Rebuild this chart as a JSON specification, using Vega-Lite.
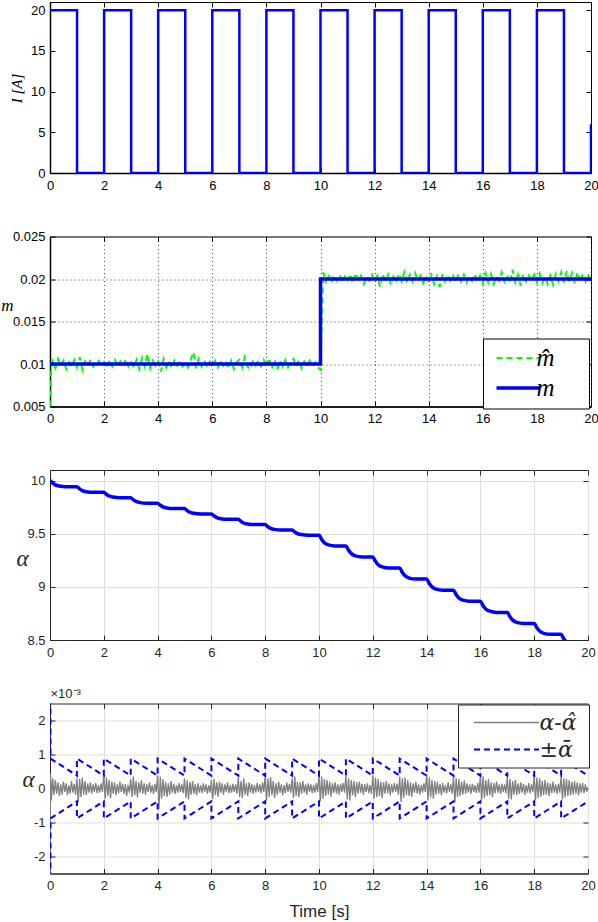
{
"$schema": "https://vega.github.io/schema/vega-lite/v6.json",
"padding": {"left": 0, "top": 1, "right": 2, "bottom": 2},
"bounds": "flush",
"spacing": 63.5,
"resolve": {"scale": {"color": "independent", "strokeDash": "independent", "strokeWidth": "independent"}, "legend": {"color": "independent", "strokeDash": "independent", "strokeWidth": "independent"}},
"config": {
  "font": "Liberation Sans",
  "view": {"stroke": "#000"},
  "axis": {"labelFont": "Liberation Sans", "labelFontSize": 13, "labelColor": "#000", "tickColor": "#000", "tickSize": -5, "labelPadding": 10, "labelFlush": false, "labelOverlap": false, "domainColor": "#000", "titleFont": "Liberation Serif", "titleFontStyle": "italic", "titleFontWeight": "normal", "titleColor": "#000"},
  "axisX": {"labelPadding": 11},
  "legend": {"symbolOpacity": 1}
},
"vconcat": [
{
  "width": 541, "height": 171,
  "data": {"values": [
    {"t":0,"v":20},{"t":1,"v":20},{"t":1,"v":0},{"t":2,"v":0},{"t":2,"v":20},{"t":3,"v":20},{"t":3,"v":0},{"t":4,"v":0},{"t":4,"v":20},{"t":5,"v":20},{"t":5,"v":0},{"t":6,"v":0},{"t":6,"v":20},{"t":7,"v":20},{"t":7,"v":0},{"t":8,"v":0},{"t":8,"v":20},{"t":9,"v":20},{"t":9,"v":0},{"t":10,"v":0},{"t":10,"v":20},{"t":11,"v":20},{"t":11,"v":0},{"t":12,"v":0},{"t":12,"v":20},{"t":13,"v":20},{"t":13,"v":0},{"t":14,"v":0},{"t":14,"v":20},{"t":15,"v":20},{"t":15,"v":0},{"t":16,"v":0},{"t":16,"v":20},{"t":17,"v":20},{"t":17,"v":0},{"t":18,"v":0},{"t":18,"v":20},{"t":19,"v":20},{"t":19,"v":0},{"t":20,"v":0},{"t":20,"v":6}
  ]},
  "layer": [
    {"mark": {"type": "line", "color": "#0000ff", "strokeWidth": 2.5, "clip": true, "strokeJoin": "miter"},
     "encoding": {
       "x": {"field": "t", "type": "quantitative", "scale": {"domain": [0, 20], "nice": false, "zero": false}, "axis": {"values": [0,2,4,6,8,10,12,14,16,18,20], "title": null, "grid": false, "domainWidth": 1.5}},
       "y": {"field": "v", "type": "quantitative", "scale": {"domain": [0, 21], "nice": false, "zero": false}, "axis": {"values": [0,5,10,15,20], "grid": false, "title": "I [A]", "titleX": -34, "titleY": 86, "titleAngle": -90, "titleAlign": "center", "titleBaseline": "middle", "titleFontSize": 15, "domainWidth": 1.5}},
       "order": {"value": null}
     }},
    {"mark": {"type": "point", "opacity": 0},
     "encoding": {
       "x": {"field": "t", "type": "quantitative", "scale": {"domain": [0, 20], "nice": false, "zero": false}, "axis": {"orient": "top", "values": [0,2,4,6,8,10,12,14,16,18,20], "labels": false, "domain": false, "grid": false, "title": null}},
       "y": {"field": "v", "type": "quantitative", "scale": {"domain": [0, 21], "nice": false, "zero": false}, "axis": {"orient": "right", "values": [0,5,10,15,20], "labels": false, "domain": false, "grid": false, "title": null}}
     }}
  ],
  "resolve": {"scale": {"x": "independent", "y": "independent"}}
},
{
  "width": 541, "height": 170,
  "data": {"values": [
    {"t":0,"v":0.005,"s":"m̂"},{"t":0.05,"v":0.0095,"s":"m̂"},
    {"t":0.1,"v":0.0103,"s":"m̂"},{"t":0.2,"v":0.0095,"s":"m̂"},{"t":0.3,"v":0.0106,"s":"m̂"},{"t":0.4,"v":0.0098,"s":"m̂"},{"t":0.5,"v":0.0104,"s":"m̂"},{"t":0.6,"v":0.0094,"s":"m̂"},{"t":0.7,"v":0.0102,"s":"m̂"},{"t":0.8,"v":0.0097,"s":"m̂"},{"t":0.9,"v":0.0105,"s":"m̂"},{"t":1.0,"v":0.0096,"s":"m̂"},
    {"t":1.1,"v":0.0108,"s":"m̂"},{"t":1.2,"v":0.0093,"s":"m̂"},{"t":1.3,"v":0.0103,"s":"m̂"},{"t":1.4,"v":0.0098,"s":"m̂"},{"t":1.5,"v":0.0105,"s":"m̂"},{"t":1.6,"v":0.0097,"s":"m̂"},{"t":1.7,"v":0.0101,"s":"m̂"},{"t":1.8,"v":0.0104,"s":"m̂"},{"t":1.9,"v":0.0098,"s":"m̂"},{"t":2.0,"v":0.0102,"s":"m̂"},
    {"t":2.1,"v":0.0095,"s":"m̂"},{"t":2.2,"v":0.0104,"s":"m̂"},{"t":2.3,"v":0.0097,"s":"m̂"},{"t":2.4,"v":0.0105,"s":"m̂"},{"t":2.5,"v":0.0098,"s":"m̂"},{"t":2.6,"v":0.0103,"s":"m̂"},{"t":2.7,"v":0.0096,"s":"m̂"},{"t":2.8,"v":0.0106,"s":"m̂"},{"t":2.9,"v":0.0097,"s":"m̂"},{"t":3.0,"v":0.0102,"s":"m̂"},
    {"t":3.1,"v":0.0096,"s":"m̂"},{"t":3.2,"v":0.0105,"s":"m̂"},{"t":3.3,"v":0.0094,"s":"m̂"},{"t":3.4,"v":0.0107,"s":"m̂"},{"t":3.5,"v":0.0097,"s":"m̂"},{"t":3.6,"v":0.0112,"s":"m̂"},{"t":3.7,"v":0.0095,"s":"m̂"},{"t":3.8,"v":0.0104,"s":"m̂"},{"t":3.9,"v":0.0098,"s":"m̂"},{"t":4.0,"v":0.0103,"s":"m̂"},
    {"t":4.1,"v":0.0091,"s":"m̂"},{"t":4.2,"v":0.0106,"s":"m̂"},{"t":4.3,"v":0.0096,"s":"m̂"},{"t":4.4,"v":0.0103,"s":"m̂"},{"t":4.5,"v":0.0095,"s":"m̂"},{"t":4.6,"v":0.0104,"s":"m̂"},{"t":4.7,"v":0.0098,"s":"m̂"},{"t":4.8,"v":0.0103,"s":"m̂"},{"t":4.9,"v":0.0097,"s":"m̂"},{"t":5.0,"v":0.0102,"s":"m̂"},
    {"t":5.1,"v":0.0096,"s":"m̂"},{"t":5.2,"v":0.0105,"s":"m̂"},{"t":5.3,"v":0.0114,"s":"m̂"},{"t":5.4,"v":0.0095,"s":"m̂"},{"t":5.5,"v":0.0106,"s":"m̂"},{"t":5.6,"v":0.0097,"s":"m̂"},{"t":5.7,"v":0.0104,"s":"m̂"},{"t":5.8,"v":0.0098,"s":"m̂"},{"t":5.9,"v":0.0103,"s":"m̂"},{"t":6.0,"v":0.0097,"s":"m̂"},
    {"t":6.1,"v":0.0104,"s":"m̂"},{"t":6.2,"v":0.0096,"s":"m̂"},{"t":6.3,"v":0.0105,"s":"m̂"},{"t":6.4,"v":0.0098,"s":"m̂"},{"t":6.5,"v":0.0103,"s":"m̂"},{"t":6.6,"v":0.0095,"s":"m̂"},{"t":6.7,"v":0.0104,"s":"m̂"},{"t":6.8,"v":0.0094,"s":"m̂"},{"t":6.9,"v":0.0102,"s":"m̂"},{"t":7.0,"v":0.0105,"s":"m̂"},
    {"t":7.1,"v":0.0096,"s":"m̂"},{"t":7.2,"v":0.0108,"s":"m̂"},{"t":7.3,"v":0.0097,"s":"m̂"},{"t":7.4,"v":0.0094,"s":"m̂"},{"t":7.5,"v":0.0103,"s":"m̂"},{"t":7.6,"v":0.0098,"s":"m̂"},{"t":7.7,"v":0.0104,"s":"m̂"},{"t":7.8,"v":0.0097,"s":"m̂"},{"t":7.9,"v":0.0105,"s":"m̂"},{"t":8.0,"v":0.0096,"s":"m̂"},
    {"t":8.1,"v":0.0107,"s":"m̂"},{"t":8.2,"v":0.0094,"s":"m̂"},{"t":8.3,"v":0.0105,"s":"m̂"},{"t":8.4,"v":0.0093,"s":"m̂"},{"t":8.5,"v":0.0104,"s":"m̂"},{"t":8.6,"v":0.0097,"s":"m̂"},{"t":8.7,"v":0.0105,"s":"m̂"},{"t":8.8,"v":0.0096,"s":"m̂"},{"t":8.9,"v":0.0102,"s":"m̂"},{"t":9.0,"v":0.0106,"s":"m̂"},
    {"t":9.1,"v":0.0097,"s":"m̂"},{"t":9.2,"v":0.0104,"s":"m̂"},{"t":9.3,"v":0.0095,"s":"m̂"},{"t":9.4,"v":0.0103,"s":"m̂"},{"t":9.5,"v":0.0098,"s":"m̂"},{"t":9.6,"v":0.0104,"s":"m̂"},{"t":9.7,"v":0.0097,"s":"m̂"},{"t":9.8,"v":0.0102,"s":"m̂"},{"t":9.9,"v":0.0096,"s":"m̂"},{"t":10.0,"v":0.0093,"s":"m̂"},
    {"t":10.1,"v":0.0208,"s":"m̂"},{"t":10.2,"v":0.0197,"s":"m̂"},{"t":10.3,"v":0.0206,"s":"m̂"},{"t":10.4,"v":0.0195,"s":"m̂"},{"t":10.5,"v":0.0204,"s":"m̂"},{"t":10.6,"v":0.0198,"s":"m̂"},{"t":10.7,"v":0.0205,"s":"m̂"},{"t":10.8,"v":0.0196,"s":"m̂"},{"t":10.9,"v":0.0203,"s":"m̂"},{"t":11.0,"v":0.0197,"s":"m̂"},
    {"t":11.1,"v":0.0206,"s":"m̂"},{"t":11.2,"v":0.0195,"s":"m̂"},{"t":11.3,"v":0.0207,"s":"m̂"},{"t":11.4,"v":0.0198,"s":"m̂"},{"t":11.5,"v":0.0204,"s":"m̂"},{"t":11.6,"v":0.0194,"s":"m̂"},{"t":11.7,"v":0.0203,"s":"m̂"},{"t":11.8,"v":0.0198,"s":"m̂"},{"t":11.9,"v":0.0205,"s":"m̂"},{"t":12.0,"v":0.0197,"s":"m̂"},
    {"t":12.1,"v":0.0204,"s":"m̂"},{"t":12.2,"v":0.0191,"s":"m̂"},{"t":12.3,"v":0.0206,"s":"m̂"},{"t":12.4,"v":0.0196,"s":"m̂"},{"t":12.5,"v":0.0205,"s":"m̂"},{"t":12.6,"v":0.0193,"s":"m̂"},{"t":12.7,"v":0.0203,"s":"m̂"},{"t":12.8,"v":0.0198,"s":"m̂"},{"t":12.9,"v":0.0206,"s":"m̂"},{"t":13.0,"v":0.0197,"s":"m̂"},
    {"t":13.1,"v":0.0208,"s":"m̂"},{"t":13.2,"v":0.0196,"s":"m̂"},{"t":13.3,"v":0.0205,"s":"m̂"},{"t":13.4,"v":0.0197,"s":"m̂"},{"t":13.5,"v":0.0207,"s":"m̂"},{"t":13.6,"v":0.0198,"s":"m̂"},{"t":13.7,"v":0.0204,"s":"m̂"},{"t":13.8,"v":0.0195,"s":"m̂"},{"t":13.9,"v":0.0203,"s":"m̂"},{"t":14.0,"v":0.0196,"s":"m̂"},
    {"t":14.1,"v":0.0205,"s":"m̂"},{"t":14.2,"v":0.0194,"s":"m̂"},{"t":14.3,"v":0.0203,"s":"m̂"},{"t":14.4,"v":0.0191,"s":"m̂"},{"t":14.5,"v":0.0204,"s":"m̂"},{"t":14.6,"v":0.0197,"s":"m̂"},{"t":14.7,"v":0.0205,"s":"m̂"},{"t":14.8,"v":0.0198,"s":"m̂"},{"t":14.9,"v":0.0204,"s":"m̂"},{"t":15.0,"v":0.0196,"s":"m̂"},
    {"t":15.1,"v":0.0206,"s":"m̂"},{"t":15.2,"v":0.0197,"s":"m̂"},{"t":15.3,"v":0.0205,"s":"m̂"},{"t":15.4,"v":0.0196,"s":"m̂"},{"t":15.5,"v":0.0203,"s":"m̂"},{"t":15.6,"v":0.0198,"s":"m̂"},{"t":15.7,"v":0.0206,"s":"m̂"},{"t":15.8,"v":0.0197,"s":"m̂"},{"t":15.9,"v":0.0204,"s":"m̂"},{"t":16.0,"v":0.0195,"s":"m̂"},
    {"t":16.1,"v":0.0207,"s":"m̂"},{"t":16.2,"v":0.0196,"s":"m̂"},{"t":16.3,"v":0.0206,"s":"m̂"},{"t":16.4,"v":0.0194,"s":"m̂"},{"t":16.5,"v":0.0203,"s":"m̂"},{"t":16.6,"v":0.0198,"s":"m̂"},{"t":16.7,"v":0.0208,"s":"m̂"},{"t":16.8,"v":0.0197,"s":"m̂"},{"t":16.9,"v":0.0204,"s":"m̂"},{"t":17.0,"v":0.0195,"s":"m̂"},
    {"t":17.1,"v":0.0211,"s":"m̂"},{"t":17.2,"v":0.0196,"s":"m̂"},{"t":17.3,"v":0.0205,"s":"m̂"},{"t":17.4,"v":0.0192,"s":"m̂"},{"t":17.5,"v":0.0206,"s":"m̂"},{"t":17.6,"v":0.0197,"s":"m̂"},{"t":17.7,"v":0.0204,"s":"m̂"},{"t":17.8,"v":0.0198,"s":"m̂"},{"t":17.9,"v":0.0205,"s":"m̂"},{"t":18.0,"v":0.0196,"s":"m̂"},
    {"t":18.1,"v":0.0206,"s":"m̂"},{"t":18.2,"v":0.0195,"s":"m̂"},{"t":18.3,"v":0.0203,"s":"m̂"},{"t":18.4,"v":0.0194,"s":"m̂"},{"t":18.5,"v":0.0204,"s":"m̂"},{"t":18.6,"v":0.0193,"s":"m̂"},{"t":18.7,"v":0.0206,"s":"m̂"},{"t":18.8,"v":0.0197,"s":"m̂"},{"t":18.9,"v":0.0208,"s":"m̂"},{"t":19.0,"v":0.0196,"s":"m̂"},
    {"t":19.1,"v":0.0209,"s":"m̂"},{"t":19.2,"v":0.0197,"s":"m̂"},{"t":19.3,"v":0.0207,"s":"m̂"},{"t":19.4,"v":0.0195,"s":"m̂"},{"t":19.5,"v":0.0208,"s":"m̂"},{"t":19.6,"v":0.0196,"s":"m̂"},{"t":19.7,"v":0.0206,"s":"m̂"},{"t":19.8,"v":0.0197,"s":"m̂"},{"t":19.9,"v":0.0204,"s":"m̂"},{"t":20.0,"v":0.0198,"s":"m̂"},
    {"t":0,"v":0.01,"s":"m"},{"t":10,"v":0.01,"s":"m"},{"t":10,"v":0.02,"s":"m"},{"t":20,"v":0.02,"s":"m"}
  ]},
  "layer": [
    {"mark": {"type": "line", "clip": true, "strokeJoin": "miter"},
     "encoding": {
       "x": {"field": "t", "type": "quantitative", "scale": {"domain": [0, 20], "nice": false, "zero": false}, "axis": {"values": [0,2,4,6,8,10,12,14,16,18,20], "title": null, "grid": true, "gridColor": "#444", "gridDash": [1, 3], "domainWidth": 1.5}},
       "y": {"field": "v", "type": "quantitative", "scale": {"domain": [0.005, 0.025], "nice": false, "zero": false}, "axis": {"values": [0.005, 0.01, 0.015, 0.02, 0.025], "format": "~g", "grid": true, "gridColor": "#444", "gridDash": [1, 3], "title": "m", "titleX": -43, "titleY": 69, "titleAngle": 0, "titleAlign": "center", "titleBaseline": "middle", "titleFontSize": 17, "domainWidth": 1.5}},
       "color": {"field": "s", "type": "nominal", "scale": {"domain": ["m̂", "m"], "range": ["#00ff00", "#0000ff"]},
         "legend": {"title": null, "orient": "none", "legendX": 433, "legendY": 102, "symbolType": "M-4.3,0H4.3", "symbolSize": 100, "symbolOffset": 15.5, "labelFont": "Liberation Serif", "labelFontStyle": "italic", "labelFontSize": 25, "labelColor": "#000", "fillColor": "#fff", "strokeColor": "#000", "padding": 7, "rowPadding": 4, "labelOffset": 6, "labelExpr": "datum.label + '\u2003\u200a\u200b'"}},
       "strokeDash": {"field": "s", "type": "nominal", "scale": {"domain": ["m̂", "m"], "range": [[6, 4], [1, 0]]},
         "legend": {"title": null, "orient": "none", "legendX": 433, "legendY": 102, "symbolType": "M-4.3,0H4.3", "symbolSize": 100, "symbolOffset": 15.5, "labelFont": "Liberation Serif", "labelFontStyle": "italic", "labelFontSize": 25, "labelColor": "#000", "fillColor": "#fff", "strokeColor": "#000", "padding": 7, "rowPadding": 4, "labelOffset": 6, "labelExpr": "datum.label + '\u2003\u200a\u200b'"}},
       "strokeWidth": {"field": "s", "type": "nominal", "scale": {"type": "ordinal", "domain": ["m̂", "m"], "range": [2, 3.5]},
         "legend": {"title": null, "orient": "none", "legendX": 433, "legendY": 102, "symbolType": "M-4.3,0H4.3", "symbolSize": 100, "symbolOffset": 15.5, "labelFont": "Liberation Serif", "labelFontStyle": "italic", "labelFontSize": 25, "labelColor": "#000", "fillColor": "#fff", "strokeColor": "#000", "padding": 7, "rowPadding": 4, "labelOffset": 6, "labelExpr": "datum.label + '\u2003\u200a\u200b'"}},
       "order": {"value": null}
     }},
    {"mark": {"type": "point", "opacity": 0},
     "encoding": {
       "x": {"field": "t", "type": "quantitative", "scale": {"domain": [0, 20], "nice": false, "zero": false}, "axis": {"orient": "top", "values": [0,2,4,6,8,10,12,14,16,18,20], "labels": false, "domain": false, "grid": false, "title": null}},
       "y": {"field": "v", "type": "quantitative", "scale": {"domain": [0.005, 0.025], "nice": false, "zero": false}, "axis": {"orient": "right", "values": [0.005, 0.01, 0.015, 0.02, 0.025], "labels": false, "domain": false, "grid": false, "title": null}}
     }}
  ],
  "resolve": {"scale": {"x": "independent", "y": "independent"}}
},
{
  "width": 538, "height": 170,
  "view": {"stroke": "#262626"},
  "data": {"values": [
    {"t":0,"v":10.0},{"t":0.1,"v":9.977},{"t":0.2,"v":9.960},{"t":0.35,"v":9.949},{"t":0.6,"v":9.943},
    {"t":1,"v":9.943},{"t":1.1,"v":9.922},{"t":1.2,"v":9.906},{"t":1.35,"v":9.895},{"t":1.6,"v":9.890},
    {"t":2,"v":9.890},{"t":2.1,"v":9.870},{"t":2.2,"v":9.855},{"t":2.35,"v":9.845},{"t":2.6,"v":9.840},
    {"t":3,"v":9.840},{"t":3.1,"v":9.819},{"t":3.2,"v":9.804},{"t":3.35,"v":9.793},{"t":3.6,"v":9.788},
    {"t":4,"v":9.788},{"t":4.1,"v":9.768},{"t":4.2,"v":9.753},{"t":4.35,"v":9.743},{"t":4.6,"v":9.738},
    {"t":5,"v":9.738},{"t":5.1,"v":9.718},{"t":5.2,"v":9.702},{"t":5.35,"v":9.692},{"t":5.6,"v":9.687},
    {"t":6,"v":9.687},{"t":6.1,"v":9.667},{"t":6.2,"v":9.652},{"t":6.35,"v":9.642},{"t":6.6,"v":9.637},
    {"t":7,"v":9.637},{"t":7.1,"v":9.617},{"t":7.2,"v":9.601},{"t":7.35,"v":9.591},{"t":7.6,"v":9.586},
    {"t":8,"v":9.586},{"t":8.1,"v":9.566},{"t":8.2,"v":9.551},{"t":8.35,"v":9.541},{"t":8.6,"v":9.536},
    {"t":9,"v":9.536},{"t":9.1,"v":9.516},{"t":9.2,"v":9.502},{"t":9.35,"v":9.492},{"t":9.6,"v":9.487},
    {"t":10,"v":9.487},{"t":10.1,"v":9.446},{"t":10.2,"v":9.416},{"t":10.35,"v":9.395},{"t":10.6,"v":9.385},
    {"t":11,"v":9.385},{"t":11.1,"v":9.344},{"t":11.2,"v":9.313},{"t":11.35,"v":9.292},{"t":11.6,"v":9.282},
    {"t":12,"v":9.282},{"t":12.1,"v":9.240},{"t":12.2,"v":9.209},{"t":12.35,"v":9.188},{"t":12.6,"v":9.177},
    {"t":13,"v":9.177},{"t":13.1,"v":9.135},{"t":13.2,"v":9.104},{"t":13.35,"v":9.083},{"t":13.6,"v":9.073},
    {"t":14,"v":9.073},{"t":14.1,"v":9.031},{"t":14.2,"v":9.000},{"t":14.35,"v":8.979},{"t":14.6,"v":8.969},
    {"t":15,"v":8.969},{"t":15.1,"v":8.927},{"t":15.2,"v":8.896},{"t":15.35,"v":8.875},{"t":15.6,"v":8.865},
    {"t":16,"v":8.865},{"t":16.1,"v":8.823},{"t":16.2,"v":8.792},{"t":16.35,"v":8.771},{"t":16.6,"v":8.760},
    {"t":17,"v":8.760},{"t":17.1,"v":8.718},{"t":17.2,"v":8.687},{"t":17.35,"v":8.666},{"t":17.6,"v":8.656},
    {"t":18,"v":8.656},{"t":18.1,"v":8.615},{"t":18.2,"v":8.584},{"t":18.35,"v":8.563},{"t":18.6,"v":8.553},
    {"t":19,"v":8.553},{"t":19.1,"v":8.511},{"t":19.2,"v":8.48}
  ]},
  "layer": [
    {"mark": {"type": "line", "color": "#0000ff", "strokeWidth": 3.5, "clip": true, "interpolate": "monotone"},
     "encoding": {
       "x": {"field": "t", "type": "quantitative", "scale": {"domain": [0, 20], "nice": false, "zero": false}, "axis": {"values": [0,2,4,6,8,10,12,14,16,18,20], "title": null, "grid": true, "gridColor": "#dedede", "labelColor": "#262626", "tickColor": "#262626", "domainColor": "#262626"}},
       "y": {"field": "v", "type": "quantitative", "scale": {"domain": [8.5, 10.1], "nice": false, "zero": false}, "axis": {"values": [8.5, 9, 9.5, 10], "format": "~g", "grid": true, "gridColor": "#dedede", "labelColor": "#262626", "tickColor": "#262626", "domainColor": "#262626", "title": "α", "titleColor": "#262626", "titleX": -28, "titleY": 88, "titleAngle": 0, "titleAlign": "center", "titleBaseline": "middle", "titleFontSize": 23}}
     }},
    {"mark": {"type": "point", "opacity": 0},
     "encoding": {
       "x": {"field": "t", "type": "quantitative", "scale": {"domain": [0, 20], "nice": false, "zero": false}, "axis": {"orient": "top", "values": [0,2,4,6,8,10,12,14,16,18,20], "labels": false, "domain": false, "grid": false, "title": null, "tickColor": "#262626"}},
       "y": {"field": "v", "type": "quantitative", "scale": {"domain": [8.5, 10.1], "nice": false, "zero": false}, "axis": {"orient": "right", "values": [8.5, 9, 9.5, 10], "labels": false, "domain": false, "grid": false, "title": null, "tickColor": "#262626"}}
     }}
  ],
  "resolve": {"scale": {"x": "independent", "y": "independent"}}
},
{
  "width": 538, "height": 170,
  "view": {"stroke": "#262626"},
  "data": {"values": [
    {"t":0,"v":-3,"k":"e"},{"t":0.02,"v":0.45,"k":"e"},{"t":0.05,"v":-0.35,"k":"e"},{"t":0.1,"v":0.3,"k":"e"},{"t":0.15,"v":-0.2,"k":"e"},{"t":0.2,"v":0.25,"k":"e"},{"t":0.25,"v":-0.15,"k":"e"},{"t":0.3,"v":0.18,"k":"e"},{"t":0.35,"v":-0.22,"k":"e"},{"t":0.4,"v":0.12,"k":"e"},{"t":0.45,"v":-0.18,"k":"e"},{"t":0.5,"v":0.2,"k":"e"},{"t":0.55,"v":-0.1,"k":"e"},{"t":0.6,"v":0.15,"k":"e"},{"t":0.65,"v":-0.2,"k":"e"},{"t":0.7,"v":0.1,"k":"e"},{"t":0.75,"v":-0.15,"k":"e"},{"t":0.8,"v":0.22,"k":"e"},{"t":0.85,"v":-0.12,"k":"e"},{"t":0.9,"v":0.14,"k":"e"},{"t":0.95,"v":-0.18,"k":"e"},
    {"t":1.0,"v":0.3,"k":"e"},{"t":1.05,"v":-0.42,"k":"e"},{"t":1.1,"v":0.28,"k":"e"},{"t":1.15,"v":-0.25,"k":"e"},{"t":1.2,"v":0.32,"k":"e"},{"t":1.25,"v":-0.18,"k":"e"},{"t":1.3,"v":0.22,"k":"e"},{"t":1.35,"v":-0.2,"k":"e"},{"t":1.4,"v":0.15,"k":"e"},{"t":1.45,"v":-0.12,"k":"e"},{"t":1.5,"v":0.18,"k":"e"},{"t":1.55,"v":-0.15,"k":"e"},{"t":1.6,"v":0.12,"k":"e"},{"t":1.65,"v":-0.1,"k":"e"},{"t":1.7,"v":0.16,"k":"e"},{"t":1.75,"v":-0.14,"k":"e"},{"t":1.8,"v":0.1,"k":"e"},{"t":1.85,"v":-0.12,"k":"e"},{"t":1.9,"v":0.15,"k":"e"},{"t":1.95,"v":-0.1,"k":"e"},
    {"t":2.0,"v":0.43,"k":"e"},{"t":2.05,"v":-0.3,"k":"e"},{"t":2.1,"v":0.32,"k":"e"},{"t":2.15,"v":-0.22,"k":"e"},{"t":2.2,"v":0.25,"k":"e"},{"t":2.25,"v":-0.28,"k":"e"},{"t":2.3,"v":0.2,"k":"e"},{"t":2.35,"v":-0.15,"k":"e"},{"t":2.4,"v":0.18,"k":"e"},{"t":2.45,"v":-0.2,"k":"e"},{"t":2.5,"v":0.12,"k":"e"},{"t":2.55,"v":-0.14,"k":"e"},{"t":2.6,"v":0.2,"k":"e"},{"t":2.65,"v":-0.1,"k":"e"},{"t":2.7,"v":0.14,"k":"e"},{"t":2.75,"v":-0.16,"k":"e"},{"t":2.8,"v":0.12,"k":"e"},{"t":2.85,"v":-0.22,"k":"e"},{"t":2.9,"v":0.1,"k":"e"},{"t":2.95,"v":-0.12,"k":"e"},
    {"t":3.0,"v":0.28,"k":"e"},{"t":3.05,"v":-0.25,"k":"e"},{"t":3.1,"v":0.35,"k":"e"},{"t":3.15,"v":-0.2,"k":"e"},{"t":3.2,"v":0.22,"k":"e"},{"t":3.25,"v":-0.26,"k":"e"},{"t":3.3,"v":0.18,"k":"e"},{"t":3.35,"v":-0.12,"k":"e"},{"t":3.4,"v":0.24,"k":"e"},{"t":3.45,"v":-0.15,"k":"e"},{"t":3.5,"v":0.15,"k":"e"},{"t":3.55,"v":-0.18,"k":"e"},{"t":3.6,"v":0.12,"k":"e"},{"t":3.65,"v":-0.1,"k":"e"},{"t":3.7,"v":0.18,"k":"e"},{"t":3.75,"v":-0.12,"k":"e"},{"t":3.8,"v":0.1,"k":"e"},{"t":3.85,"v":-0.16,"k":"e"},{"t":3.9,"v":0.14,"k":"e"},{"t":3.95,"v":-0.1,"k":"e"},
    {"t":4.0,"v":0.38,"k":"e"},{"t":4.05,"v":-0.6,"k":"e"},{"t":4.1,"v":0.35,"k":"e"},{"t":4.15,"v":-0.3,"k":"e"},{"t":4.2,"v":0.28,"k":"e"},{"t":4.25,"v":-0.22,"k":"e"},{"t":4.3,"v":0.2,"k":"e"},{"t":4.35,"v":-0.25,"k":"e"},{"t":4.4,"v":0.15,"k":"e"},{"t":4.45,"v":-0.18,"k":"e"},{"t":4.5,"v":0.22,"k":"e"},{"t":4.55,"v":-0.12,"k":"e"},{"t":4.6,"v":0.14,"k":"e"},{"t":4.65,"v":-0.16,"k":"e"},{"t":4.7,"v":0.1,"k":"e"},{"t":4.75,"v":-0.12,"k":"e"},{"t":4.8,"v":0.16,"k":"e"},{"t":4.85,"v":-0.1,"k":"e"},{"t":4.9,"v":0.12,"k":"e"},{"t":4.95,"v":-0.14,"k":"e"},
    {"t":5.0,"v":0.3,"k":"e"},{"t":5.05,"v":-0.28,"k":"e"},{"t":5.1,"v":0.25,"k":"e"},{"t":5.15,"v":-0.32,"k":"e"},{"t":5.2,"v":0.2,"k":"e"},{"t":5.25,"v":-0.18,"k":"e"},{"t":5.3,"v":0.22,"k":"e"},{"t":5.35,"v":-0.15,"k":"e"},{"t":5.4,"v":0.12,"k":"e"},{"t":5.45,"v":-0.2,"k":"e"},{"t":5.5,"v":0.16,"k":"e"},{"t":5.55,"v":-0.12,"k":"e"},{"t":5.6,"v":0.1,"k":"e"},{"t":5.65,"v":-0.14,"k":"e"},{"t":5.7,"v":0.15,"k":"e"},{"t":5.75,"v":-0.1,"k":"e"},{"t":5.8,"v":0.12,"k":"e"},{"t":5.85,"v":-0.15,"k":"e"},{"t":5.9,"v":0.1,"k":"e"},{"t":5.95,"v":-0.12,"k":"e"},
    {"t":6.0,"v":0.25,"k":"e"},{"t":6.05,"v":-0.3,"k":"e"},{"t":6.1,"v":0.28,"k":"e"},{"t":6.15,"v":-0.2,"k":"e"},{"t":6.2,"v":0.18,"k":"e"},{"t":6.25,"v":-0.24,"k":"e"},{"t":6.3,"v":0.2,"k":"e"},{"t":6.35,"v":-0.12,"k":"e"},{"t":6.4,"v":0.15,"k":"e"},{"t":6.45,"v":-0.18,"k":"e"},{"t":6.5,"v":0.12,"k":"e"},{"t":6.55,"v":-0.1,"k":"e"},{"t":6.6,"v":0.18,"k":"e"},{"t":6.65,"v":-0.14,"k":"e"},{"t":6.7,"v":0.1,"k":"e"},{"t":6.75,"v":-0.12,"k":"e"},{"t":6.8,"v":0.14,"k":"e"},{"t":6.85,"v":-0.1,"k":"e"},{"t":6.9,"v":0.12,"k":"e"},{"t":6.95,"v":-0.15,"k":"e"},
    {"t":7.0,"v":0.32,"k":"e"},{"t":7.05,"v":-0.25,"k":"e"},{"t":7.1,"v":0.22,"k":"e"},{"t":7.15,"v":-0.28,"k":"e"},{"t":7.2,"v":0.3,"k":"e"},{"t":7.25,"v":-0.18,"k":"e"},{"t":7.3,"v":0.15,"k":"e"},{"t":7.35,"v":-0.22,"k":"e"},{"t":7.4,"v":0.18,"k":"e"},{"t":7.45,"v":-0.12,"k":"e"},{"t":7.5,"v":0.14,"k":"e"},{"t":7.55,"v":-0.16,"k":"e"},{"t":7.6,"v":0.1,"k":"e"},{"t":7.65,"v":-0.12,"k":"e"},{"t":7.7,"v":0.16,"k":"e"},{"t":7.75,"v":-0.1,"k":"e"},{"t":7.8,"v":0.12,"k":"e"},{"t":7.85,"v":-0.14,"k":"e"},{"t":7.9,"v":0.18,"k":"e"},{"t":7.95,"v":-0.1,"k":"e"},
    {"t":8.0,"v":0.4,"k":"e"},{"t":8.05,"v":-0.35,"k":"e"},{"t":8.1,"v":0.3,"k":"e"},{"t":8.15,"v":-0.25,"k":"e"},{"t":8.2,"v":0.34,"k":"e"},{"t":8.25,"v":-0.2,"k":"e"},{"t":8.3,"v":0.22,"k":"e"},{"t":8.35,"v":-0.28,"k":"e"},{"t":8.4,"v":0.15,"k":"e"},{"t":8.45,"v":-0.18,"k":"e"},{"t":8.5,"v":0.2,"k":"e"},{"t":8.55,"v":-0.12,"k":"e"},{"t":8.6,"v":0.12,"k":"e"},{"t":8.65,"v":-0.2,"k":"e"},{"t":8.7,"v":0.1,"k":"e"},{"t":8.75,"v":-0.14,"k":"e"},{"t":8.8,"v":0.18,"k":"e"},{"t":8.85,"v":-0.1,"k":"e"},{"t":8.9,"v":0.14,"k":"e"},{"t":8.95,"v":-0.12,"k":"e"},
    {"t":9.0,"v":0.3,"k":"e"},{"t":9.05,"v":-0.28,"k":"e"},{"t":9.1,"v":0.35,"k":"e"},{"t":9.15,"v":-0.22,"k":"e"},{"t":9.2,"v":0.2,"k":"e"},{"t":9.25,"v":-0.25,"k":"e"},{"t":9.3,"v":0.18,"k":"e"},{"t":9.35,"v":-0.15,"k":"e"},{"t":9.4,"v":0.22,"k":"e"},{"t":9.45,"v":-0.12,"k":"e"},{"t":9.5,"v":0.12,"k":"e"},{"t":9.55,"v":-0.18,"k":"e"},{"t":9.6,"v":0.15,"k":"e"},{"t":9.65,"v":-0.1,"k":"e"},{"t":9.7,"v":0.12,"k":"e"},{"t":9.75,"v":-0.14,"k":"e"},{"t":9.8,"v":0.1,"k":"e"},{"t":9.85,"v":-0.12,"k":"e"},{"t":9.9,"v":0.16,"k":"e"},{"t":9.95,"v":-0.1,"k":"e"},
    {"t":10.0,"v":0.42,"k":"e"},{"t":10.05,"v":-0.38,"k":"e"},{"t":10.1,"v":0.35,"k":"e"},{"t":10.15,"v":-0.3,"k":"e"},{"t":10.2,"v":0.28,"k":"e"},{"t":10.25,"v":-0.22,"k":"e"},{"t":10.3,"v":0.25,"k":"e"},{"t":10.35,"v":-0.18,"k":"e"},{"t":10.4,"v":0.2,"k":"e"},{"t":10.45,"v":-0.24,"k":"e"},{"t":10.5,"v":0.15,"k":"e"},{"t":10.55,"v":-0.12,"k":"e"},{"t":10.6,"v":0.18,"k":"e"},{"t":10.65,"v":-0.15,"k":"e"},{"t":10.7,"v":0.12,"k":"e"},{"t":10.75,"v":-0.18,"k":"e"},{"t":10.8,"v":0.14,"k":"e"},{"t":10.85,"v":-0.1,"k":"e"},{"t":10.9,"v":0.16,"k":"e"},{"t":10.95,"v":-0.12,"k":"e"},
    {"t":11.0,"v":0.4,"k":"e"},{"t":11.05,"v":-0.32,"k":"e"},{"t":11.1,"v":0.3,"k":"e"},{"t":11.15,"v":-0.35,"k":"e"},{"t":11.2,"v":0.25,"k":"e"},{"t":11.25,"v":-0.2,"k":"e"},{"t":11.3,"v":0.22,"k":"e"},{"t":11.35,"v":-0.25,"k":"e"},{"t":11.4,"v":0.18,"k":"e"},{"t":11.45,"v":-0.15,"k":"e"},{"t":11.5,"v":0.2,"k":"e"},{"t":11.55,"v":-0.12,"k":"e"},{"t":11.6,"v":0.14,"k":"e"},{"t":11.65,"v":-0.18,"k":"e"},{"t":11.7,"v":0.12,"k":"e"},{"t":11.75,"v":-0.1,"k":"e"},{"t":11.8,"v":0.15,"k":"e"},{"t":11.85,"v":-0.14,"k":"e"},{"t":11.9,"v":0.1,"k":"e"},{"t":11.95,"v":-0.16,"k":"e"},
    {"t":12.0,"v":0.38,"k":"e"},{"t":12.05,"v":-0.3,"k":"e"},{"t":12.1,"v":0.32,"k":"e"},{"t":12.15,"v":-0.25,"k":"e"},{"t":12.2,"v":0.28,"k":"e"},{"t":12.25,"v":-0.22,"k":"e"},{"t":12.3,"v":0.2,"k":"e"},{"t":12.35,"v":-0.28,"k":"e"},{"t":12.4,"v":0.18,"k":"e"},{"t":12.45,"v":-0.15,"k":"e"},{"t":12.5,"v":0.22,"k":"e"},{"t":12.55,"v":-0.14,"k":"e"},{"t":12.6,"v":0.15,"k":"e"},{"t":12.65,"v":-0.2,"k":"e"},{"t":12.7,"v":0.12,"k":"e"},{"t":12.75,"v":-0.12,"k":"e"},{"t":12.8,"v":0.16,"k":"e"},{"t":12.85,"v":-0.1,"k":"e"},{"t":12.9,"v":0.14,"k":"e"},{"t":12.95,"v":-0.18,"k":"e"},
    {"t":13.0,"v":0.35,"k":"e"},{"t":13.05,"v":-0.4,"k":"e"},{"t":13.1,"v":0.3,"k":"e"},{"t":13.15,"v":-0.28,"k":"e"},{"t":13.2,"v":0.32,"k":"e"},{"t":13.25,"v":-0.2,"k":"e"},{"t":13.3,"v":0.25,"k":"e"},{"t":13.35,"v":-0.22,"k":"e"},{"t":13.4,"v":0.18,"k":"e"},{"t":13.45,"v":-0.25,"k":"e"},{"t":13.5,"v":0.15,"k":"e"},{"t":13.55,"v":-0.12,"k":"e"},{"t":13.6,"v":0.2,"k":"e"},{"t":13.65,"v":-0.15,"k":"e"},{"t":13.7,"v":0.12,"k":"e"},{"t":13.75,"v":-0.18,"k":"e"},{"t":13.8,"v":0.1,"k":"e"},{"t":13.85,"v":-0.12,"k":"e"},{"t":13.9,"v":0.15,"k":"e"},{"t":13.95,"v":-0.1,"k":"e"},
    {"t":14.0,"v":0.4,"k":"e"},{"t":14.05,"v":-0.35,"k":"e"},{"t":14.1,"v":0.32,"k":"e"},{"t":14.15,"v":-0.26,"k":"e"},{"t":14.2,"v":0.25,"k":"e"},{"t":14.25,"v":-0.3,"k":"e"},{"t":14.3,"v":0.22,"k":"e"},{"t":14.35,"v":-0.18,"k":"e"},{"t":14.4,"v":0.2,"k":"e"},{"t":14.45,"v":-0.15,"k":"e"},{"t":14.5,"v":0.14,"k":"e"},{"t":14.55,"v":-0.2,"k":"e"},{"t":14.6,"v":0.16,"k":"e"},{"t":14.65,"v":-0.12,"k":"e"},{"t":14.7,"v":0.1,"k":"e"},{"t":14.75,"v":-0.14,"k":"e"},{"t":14.8,"v":0.18,"k":"e"},{"t":14.85,"v":-0.1,"k":"e"},{"t":14.9,"v":0.12,"k":"e"},{"t":14.95,"v":-0.15,"k":"e"},
    {"t":15.0,"v":0.36,"k":"e"},{"t":15.05,"v":-0.42,"k":"e"},{"t":15.1,"v":0.3,"k":"e"},{"t":15.15,"v":-0.25,"k":"e"},{"t":15.2,"v":0.28,"k":"e"},{"t":15.25,"v":-0.22,"k":"e"},{"t":15.3,"v":0.2,"k":"e"},{"t":15.35,"v":-0.18,"k":"e"},{"t":15.4,"v":0.24,"k":"e"},{"t":15.45,"v":-0.15,"k":"e"},{"t":15.5,"v":0.15,"k":"e"},{"t":15.55,"v":-0.12,"k":"e"},{"t":15.6,"v":0.12,"k":"e"},{"t":15.65,"v":-0.16,"k":"e"},{"t":15.7,"v":0.14,"k":"e"},{"t":15.75,"v":-0.1,"k":"e"},{"t":15.8,"v":0.1,"k":"e"},{"t":15.85,"v":-0.14,"k":"e"},{"t":15.9,"v":0.16,"k":"e"},{"t":15.95,"v":-0.12,"k":"e"},
    {"t":16.0,"v":0.38,"k":"e"},{"t":16.05,"v":-0.32,"k":"e"},{"t":16.1,"v":0.35,"k":"e"},{"t":16.15,"v":-0.28,"k":"e"},{"t":16.2,"v":0.25,"k":"e"},{"t":16.25,"v":-0.22,"k":"e"},{"t":16.3,"v":0.28,"k":"e"},{"t":16.35,"v":-0.2,"k":"e"},{"t":16.4,"v":0.18,"k":"e"},{"t":16.45,"v":-0.25,"k":"e"},{"t":16.5,"v":0.16,"k":"e"},{"t":16.55,"v":-0.14,"k":"e"},{"t":16.6,"v":0.2,"k":"e"},{"t":16.65,"v":-0.12,"k":"e"},{"t":16.7,"v":0.12,"k":"e"},{"t":16.75,"v":-0.16,"k":"e"},{"t":16.8,"v":0.14,"k":"e"},{"t":16.85,"v":-0.1,"k":"e"},{"t":16.9,"v":0.12,"k":"e"},{"t":16.95,"v":-0.14,"k":"e"},
    {"t":17.0,"v":0.34,"k":"e"},{"t":17.05,"v":-0.3,"k":"e"},{"t":17.1,"v":0.28,"k":"e"},{"t":17.15,"v":-0.32,"k":"e"},{"t":17.2,"v":0.22,"k":"e"},{"t":17.25,"v":-0.18,"k":"e"},{"t":17.3,"v":0.25,"k":"e"},{"t":17.35,"v":-0.2,"k":"e"},{"t":17.4,"v":0.15,"k":"e"},{"t":17.45,"v":-0.16,"k":"e"},{"t":17.5,"v":0.18,"k":"e"},{"t":17.55,"v":-0.12,"k":"e"},{"t":17.6,"v":0.14,"k":"e"},{"t":17.65,"v":-0.18,"k":"e"},{"t":17.7,"v":0.1,"k":"e"},{"t":17.75,"v":-0.12,"k":"e"},{"t":17.8,"v":0.16,"k":"e"},{"t":17.85,"v":-0.14,"k":"e"},{"t":17.9,"v":0.12,"k":"e"},{"t":17.95,"v":-0.1,"k":"e"},
    {"t":18.0,"v":0.4,"k":"e"},{"t":18.05,"v":-0.34,"k":"e"},{"t":18.1,"v":0.32,"k":"e"},{"t":18.15,"v":-0.28,"k":"e"},{"t":18.2,"v":0.3,"k":"e"},{"t":18.25,"v":-0.24,"k":"e"},{"t":18.3,"v":0.22,"k":"e"},{"t":18.35,"v":-0.2,"k":"e"},{"t":18.4,"v":0.25,"k":"e"},{"t":18.45,"v":-0.18,"k":"e"},{"t":18.5,"v":0.18,"k":"e"},{"t":18.55,"v":-0.22,"k":"e"},{"t":18.6,"v":0.15,"k":"e"},{"t":18.65,"v":-0.14,"k":"e"},{"t":18.7,"v":0.2,"k":"e"},{"t":18.75,"v":-0.12,"k":"e"},{"t":18.8,"v":0.12,"k":"e"},{"t":18.85,"v":-0.16,"k":"e"},{"t":18.9,"v":0.14,"k":"e"},{"t":18.95,"v":-0.12,"k":"e"},
    {"t":19.0,"v":0.36,"k":"e"},{"t":19.05,"v":-0.32,"k":"e"},{"t":19.1,"v":0.3,"k":"e"},{"t":19.15,"v":-0.26,"k":"e"},{"t":19.2,"v":0.28,"k":"e"},{"t":19.25,"v":-0.22,"k":"e"},{"t":19.3,"v":0.24,"k":"e"},{"t":19.35,"v":-0.2,"k":"e"},{"t":19.4,"v":0.2,"k":"e"},{"t":19.45,"v":-0.18,"k":"e"},{"t":19.5,"v":0.22,"k":"e"},{"t":19.55,"v":-0.15,"k":"e"},{"t":19.6,"v":0.18,"k":"e"},{"t":19.65,"v":-0.2,"k":"e"},{"t":19.7,"v":0.15,"k":"e"},{"t":19.75,"v":-0.12,"k":"e"},{"t":19.8,"v":0.16,"k":"e"},{"t":19.85,"v":-0.14,"k":"e"},{"t":19.9,"v":0.12,"k":"e"},{"t":19.95,"v":-0.1,"k":"e"},{"t":20.0,"v":0.05,"k":"e"},
    {"t":0,"v":10,"k":"b","d":"u"},{"t":0.02,"v":0.88,"k":"b","d":"u"},{"t":1,"v":0.38,"k":"b","d":"u"},{"t":1,"v":0.88,"k":"b","d":"u"},{"t":2,"v":0.38,"k":"b","d":"u"},{"t":2,"v":0.88,"k":"b","d":"u"},{"t":3,"v":0.38,"k":"b","d":"u"},{"t":3,"v":0.88,"k":"b","d":"u"},{"t":4,"v":0.38,"k":"b","d":"u"},{"t":4,"v":0.88,"k":"b","d":"u"},{"t":5,"v":0.38,"k":"b","d":"u"},{"t":5,"v":0.88,"k":"b","d":"u"},{"t":6,"v":0.38,"k":"b","d":"u"},{"t":6,"v":0.88,"k":"b","d":"u"},{"t":7,"v":0.38,"k":"b","d":"u"},{"t":7,"v":0.88,"k":"b","d":"u"},{"t":8,"v":0.38,"k":"b","d":"u"},{"t":8,"v":0.88,"k":"b","d":"u"},{"t":9,"v":0.38,"k":"b","d":"u"},{"t":9,"v":0.88,"k":"b","d":"u"},{"t":10,"v":0.38,"k":"b","d":"u"},{"t":10,"v":0.88,"k":"b","d":"u"},{"t":11,"v":0.38,"k":"b","d":"u"},{"t":11,"v":0.88,"k":"b","d":"u"},{"t":12,"v":0.38,"k":"b","d":"u"},{"t":12,"v":0.88,"k":"b","d":"u"},{"t":13,"v":0.38,"k":"b","d":"u"},{"t":13,"v":0.88,"k":"b","d":"u"},{"t":14,"v":0.38,"k":"b","d":"u"},{"t":14,"v":0.88,"k":"b","d":"u"},{"t":15,"v":0.38,"k":"b","d":"u"},{"t":15,"v":0.88,"k":"b","d":"u"},{"t":16,"v":0.38,"k":"b","d":"u"},{"t":16,"v":0.88,"k":"b","d":"u"},{"t":17,"v":0.38,"k":"b","d":"u"},{"t":17,"v":0.88,"k":"b","d":"u"},{"t":18,"v":0.38,"k":"b","d":"u"},{"t":18,"v":0.88,"k":"b","d":"u"},{"t":19,"v":0.38,"k":"b","d":"u"},{"t":19,"v":0.88,"k":"b","d":"u"},{"t":20,"v":0.38,"k":"b","d":"u"},
    {"t":0,"v":-10,"k":"b","d":"l"},{"t":0.02,"v":-0.88,"k":"b","d":"l"},{"t":1,"v":-0.38,"k":"b","d":"l"},{"t":1,"v":-0.88,"k":"b","d":"l"},{"t":2,"v":-0.38,"k":"b","d":"l"},{"t":2,"v":-0.88,"k":"b","d":"l"},{"t":3,"v":-0.38,"k":"b","d":"l"},{"t":3,"v":-0.88,"k":"b","d":"l"},{"t":4,"v":-0.38,"k":"b","d":"l"},{"t":4,"v":-0.88,"k":"b","d":"l"},{"t":5,"v":-0.38,"k":"b","d":"l"},{"t":5,"v":-0.88,"k":"b","d":"l"},{"t":6,"v":-0.38,"k":"b","d":"l"},{"t":6,"v":-0.88,"k":"b","d":"l"},{"t":7,"v":-0.38,"k":"b","d":"l"},{"t":7,"v":-0.88,"k":"b","d":"l"},{"t":8,"v":-0.38,"k":"b","d":"l"},{"t":8,"v":-0.88,"k":"b","d":"l"},{"t":9,"v":-0.38,"k":"b","d":"l"},{"t":9,"v":-0.88,"k":"b","d":"l"},{"t":10,"v":-0.38,"k":"b","d":"l"},{"t":10,"v":-0.88,"k":"b","d":"l"},{"t":11,"v":-0.38,"k":"b","d":"l"},{"t":11,"v":-0.88,"k":"b","d":"l"},{"t":12,"v":-0.38,"k":"b","d":"l"},{"t":12,"v":-0.88,"k":"b","d":"l"},{"t":13,"v":-0.38,"k":"b","d":"l"},{"t":13,"v":-0.88,"k":"b","d":"l"},{"t":14,"v":-0.38,"k":"b","d":"l"},{"t":14,"v":-0.88,"k":"b","d":"l"},{"t":15,"v":-0.38,"k":"b","d":"l"},{"t":15,"v":-0.88,"k":"b","d":"l"},{"t":16,"v":-0.38,"k":"b","d":"l"},{"t":16,"v":-0.88,"k":"b","d":"l"},{"t":17,"v":-0.38,"k":"b","d":"l"},{"t":17,"v":-0.88,"k":"b","d":"l"},{"t":18,"v":-0.38,"k":"b","d":"l"},{"t":18,"v":-0.88,"k":"b","d":"l"},{"t":19,"v":-0.38,"k":"b","d":"l"},{"t":19,"v":-0.88,"k":"b","d":"l"},{"t":20,"v":-0.38,"k":"b","d":"l"}
  ]},
  "layer": [
    {"mark": {"type": "line", "clip": true, "strokeJoin": "miter"},
     "encoding": {
       "x": {"field": "t", "type": "quantitative", "scale": {"domain": [0, 20], "nice": false, "zero": false}, "axis": {"values": [0,2,4,6,8,10,12,14,16,18,20], "grid": true, "gridColor": "#dedede", "labelColor": "#262626", "tickColor": "#262626", "domainColor": "#262626", "title": "Time [s]", "titleFont": "Liberation Sans", "titleFontStyle": "normal", "titleFontSize": 17, "titleColor": "#262626", "titleY": 30, "titleBaseline": "top"}},
       "y": {"field": "v", "type": "quantitative", "scale": {"domain": [-2.5, 2.5], "nice": false, "zero": false}, "axis": {"values": [-2, -1, 0, 1, 2], "labelExpr": "datum.value < 0 ? '-' + (-datum.value) : '' + datum.value", "grid": true, "gridColor": "#dedede", "labelColor": "#262626", "tickColor": "#262626", "domainColor": "#262626", "title": "α", "titleColor": "#262626", "titleX": -22, "titleY": 76, "titleAngle": 0, "titleAlign": "center", "titleBaseline": "middle", "titleFontSize": 23}},
       "color": {"field": "k", "type": "nominal", "scale": {"domain": ["e", "b"], "range": ["#808080", "#0000ff"]},
         "legend": {"title": null, "orient": "none", "legendX": 408, "legendY": 1, "symbolType": "M-6.5,0H6.5", "symbolSize": 100, "symbolOffset": 30.5, "labelFont": "DejaVu Serif", "labelFontStyle": "italic", "labelFontSize": 22, "labelColor": "#262626", "fillColor": "#fff", "strokeColor": "#262626", "padding": 7, "rowPadding": 5, "labelOffset": 22, "labelExpr": "datum.label == 'e' ? 'α-α\u0302\u2009\u200b' : '±\u1fb1'"}},
       "strokeDash": {"field": "k", "type": "nominal", "scale": {"domain": ["e", "b"], "range": [[1, 0], [6, 4]]},
         "legend": {"title": null, "orient": "none", "legendX": 408, "legendY": 1, "symbolType": "M-6.5,0H6.5", "symbolSize": 100, "symbolOffset": 30.5, "labelFont": "DejaVu Serif", "labelFontStyle": "italic", "labelFontSize": 22, "labelColor": "#262626", "fillColor": "#fff", "strokeColor": "#262626", "padding": 7, "rowPadding": 5, "labelOffset": 22, "labelExpr": "datum.label == 'e' ? 'α-α\u0302\u2009\u200b' : '±\u1fb1'"}},
       "strokeWidth": {"field": "k", "type": "nominal", "scale": {"type": "ordinal", "domain": ["e", "b"], "range": [1.3, 2]},
         "legend": {"title": null, "orient": "none", "legendX": 408, "legendY": 1, "symbolType": "M-6.5,0H6.5", "symbolSize": 100, "symbolOffset": 30.5, "labelFont": "DejaVu Serif", "labelFontStyle": "italic", "labelFontSize": 22, "labelColor": "#262626", "fillColor": "#fff", "strokeColor": "#262626", "padding": 7, "rowPadding": 5, "labelOffset": 22, "labelExpr": "datum.label == 'e' ? 'α-α\u0302\u2009\u200b' : '±\u1fb1'"}},
       "detail": {"field": "d", "type": "nominal"},
       "order": {"value": null}
     }},
    {"mark": {"type": "point", "opacity": 0},
     "encoding": {
       "x": {"field": "t", "type": "quantitative", "scale": {"domain": [0, 20], "nice": false, "zero": false}, "axis": {"orient": "top", "values": [0,2,4,6,8,10,12,14,16,18,20], "labels": false, "domain": false, "grid": false, "tickColor": "#262626", "title": "×10⁻³", "titleX": 0, "titleY": -3, "titleAlign": "left", "titleBaseline": "bottom", "titleAngle": 0, "titleFont": "Liberation Sans", "titleFontStyle": "normal", "titleFontSize": 13, "titleColor": "#262626"}},
       "y": {"field": "v", "type": "quantitative", "scale": {"domain": [-2.5, 2.5], "nice": false, "zero": false}, "axis": {"orient": "right", "values": [-2, -1, 0, 1, 2], "labels": false, "domain": false, "grid": false, "title": null, "tickColor": "#262626"}}
     }}
  ],
  "resolve": {"scale": {"x": "independent", "y": "independent"}}
}
]
}
